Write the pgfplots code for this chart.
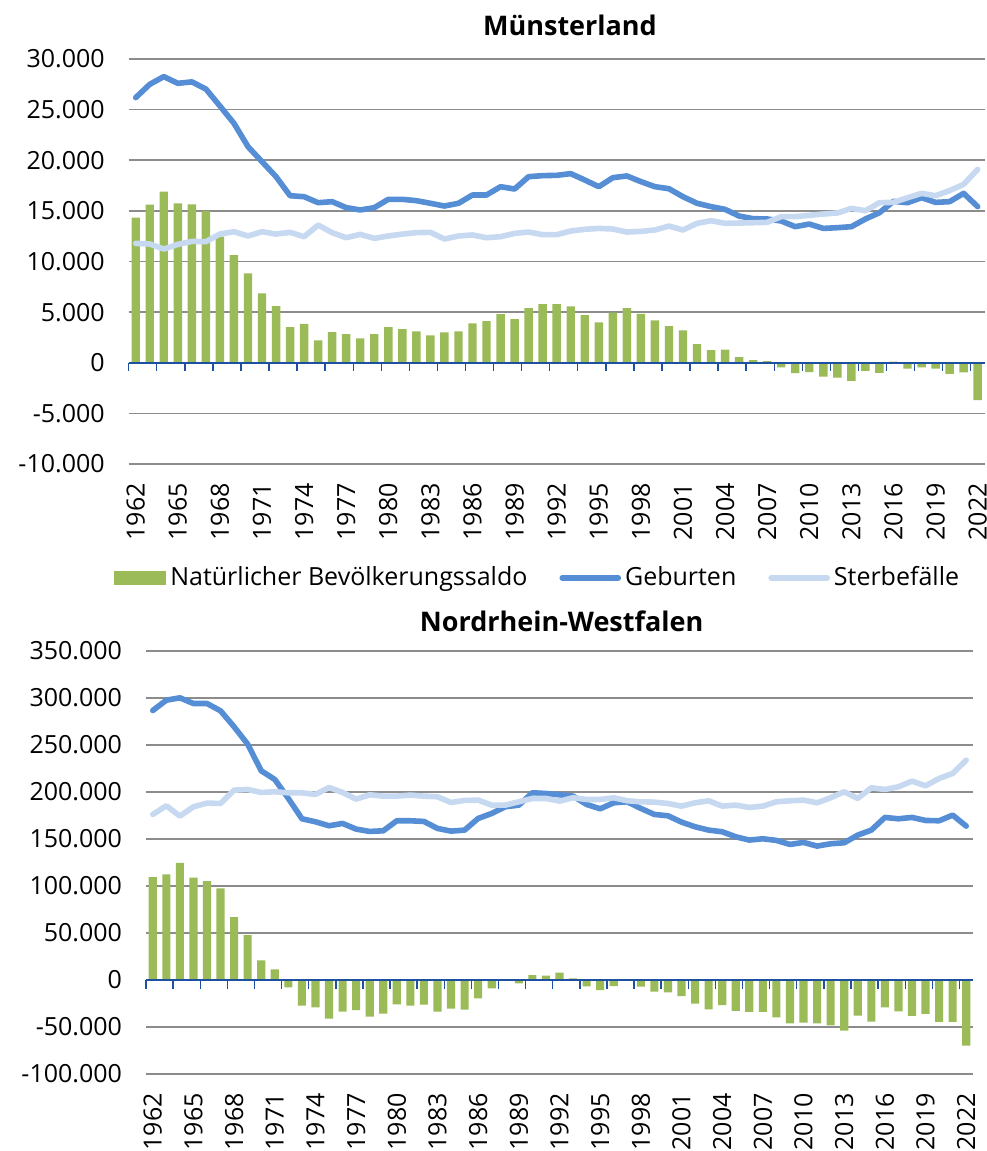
\documentclass[border=0pt]{standalone}
\usepackage{fontspec}
\setmainfont{Open Sans}
\usepackage{pgfplots}
\usepackage{pgfplotstable}
\pgfplotsset{compat=1.18}

\definecolor{saldo}{HTML}{9BBB59}
\definecolor{geb}{HTML}{558ED5}
\definecolor{sterb}{HTML}{C6D9F1}
\definecolor{gridg}{RGB}{140,140,140}
\definecolor{nullblau}{RGB}{30,80,160}

% Jahr, natuerlicher Saldo, Geburten, Sterbefaelle
\pgfplotstableread{
year saldo geb sterb
1962 14330 26190 11790
1963 15610 27500 11730
1964 16900 28260 11230
1965 15750 27600 11690
1966 15650 27740 11990
1967 14990 27040 11960
1968 12450 25360 12710
1969 10640 23650 12945
1970 8830 21345 12520
1971 6850 19860 12945
1972 5600 18380 12710
1973 3525 16500 12880
1974 3850 16400 12450
1975 2200 15810 13600
1976 3030 15910 12850
1977 2830 15320 12350
1978 2400 15090 12680
1979 2830 15320 12290
1980 3525 16140 12520
1981 3330 16140 12710
1982 3100 16010 12850
1983 2700 15750 12880
1984 3000 15480 12220
1985 3100 15750 12520
1986 3890 16570 12620
1987 4120 16570 12350
1988 4810 17390 12450
1989 4315 17160 12780
1990 5400 18380 12910
1991 5800 18480 12650
1992 5800 18510 12650
1993 5570 18680 13010
1994 4710 18050 13180
1995 3990 17390 13270
1996 4940 18280 13210
1997 5400 18450 12910
1998 4840 17890 12980
1999 4180 17390 13110
2000 3620 17190 13500
2001 3200 16400 13110
2002 1845 15750 13770
2003 1250 15420 14030
2004 1285 15150 13770
2005 560 14490 13800
2006 260 14230 13830
2007 165 14200 13870
2008 -460 14000 14430
2009 -1020 13440 14430
2010 -920 13700 14560
2011 -1380 13270 14690
2012 -1480 13340 14790
2013 -1780 13440 15250
2014 -790 14200 15020
2015 -990 14820 15810
2016 100 15940 15840
2017 -590 15810 16300
2018 -460 16300 16730
2019 -590 15840 16500
2020 -1090 15910 17000
2021 -955 16730 17620
2022 -3690 15420 19100
}\muenster

\pgfplotstableread{
year saldo geb sterb
1962 109500 286700 176140
1963 112350 297700 185350
1964 124750 300200 174360
1965 108800 294150 184290
1966 105260 294150 188190
1967 97460 286360 187830
1968 66980 269350 202010
1969 47840 250900 202720
1970 20910 222560 199530
1971 11340 213350 200240
1972 -7800 193150 199170
1973 -27290 171530 199170
1974 -29060 168340 197400
1975 -41110 164090 204840
1976 -33670 166570 199530
1977 -31900 160540 192440
1978 -38980 158060 197050
1979 -35790 158770 195630
1980 -25870 169400 195630
1981 -27290 169400 196690
1982 -26230 168700 195630
1983 -33670 161250 194920
1984 -30480 158420 188900
1985 -31540 159480 191020
1986 -19490 171880 191380
1987 -8860 177200 186060
1988 -1000 184290 186060
1989 -3540 186060 189600
1990 5320 199170 193150
1991 4600 198460 193150
1992 7800 197050 190310
1993 1800 195630 193860
1994 -6730 186770 192080
1995 -10630 182160 192080
1996 -6380 188540 193860
1997 -1000 189600 190670
1998 -7090 182520 189600
1999 -12400 176140 189250
2000 -13110 174720 187830
2001 -17010 167990 185000
2002 -25160 163020 188540
2003 -31190 159480 190670
2004 -26580 157710 185000
2005 -32960 152390 186060
2006 -34020 148850 183580
2007 -34020 150270 185000
2008 -39690 148500 189600
2009 -46070 144240 190670
2010 -45360 146370 191380
2011 -46070 142470 188540
2012 -48200 144950 193860
2013 -53870 146010 200240
2014 -37920 154160 193150
2015 -44300 159480 204490
2016 -29060 172950 202720
2017 -33310 171530 205550
2018 -38280 172950 211580
2019 -36150 169760 206620
2020 -44650 169400 214410
2021 -44650 175430 219730
2022 -69820 163730 233900
}\nrw

\pgfplotsset{
  panel/.style={
    scale only axis,
    xmin=1961.5, xmax=2022.5,
    axis line style={draw=none},
    major tick length=0pt,
    scaled y ticks=false,
    ymajorgrids,
    major grid style={gridg, line width=0.8pt},
    xtick={1962,1965,...,2022},
    xticklabels={1962,1965,1968,1971,1974,1977,1980,1983,1986,1989,1992,1995,1998,2001,2004,2007,2010,2013,2016,2019,2022},
    xticklabel style={rotate=90, anchor=east, inner sep=0pt},
    xticklabel shift=9.5pt,
    yticklabel style={xshift=-8.5pt},
    tick label style={font=\fontsize{12.5}{14}\selectfont},
    clip=false,
  },
  saldobar/.style={ybar, bar width=0.6, fill=saldo, draw=none,
    legend image code/.code={\fill[saldo] (0pt,-3.5pt) rectangle (26pt,3.5pt);}},
  linie/.style={line width=2.8pt, line join=round, line cap=round, mark=none,
    legend image code/.code={\draw[##1] (0pt,0pt) -- (28pt,0pt);}},
}

\newcommand{\nullachse}{%
  \draw[nullblau, line width=1pt] (axis cs:1961.5,0) -- (axis cs:2022.5,0);
  \pgfplotsinvokeforeach{1961.5,1963.5,1965.5,1967.5,1969.5,1971.5,1973.5,1975.5,1977.5,1979.5,1981.5,1983.5,1985.5,1987.5,1989.5,1991.5,1993.5,1995.5,1997.5,1999.5,2001.5,2003.5,2005.5,2007.5,2009.5,2011.5,2013.5,2015.5,2017.5,2019.5,2021.5}{%
    \draw[nullblau, line width=0.7pt] (axis cs:##1,0) -- ++(0pt,-4.3pt);}%
}

\begin{document}
\begin{tikzpicture}
\path[use as bounding box] (0pt,0pt) rectangle (493pt,-575.5pt);

\node[font=\bfseries\fontsize{13.5}{16}\selectfont] at (285pt,-12.5pt) {Münsterland};
\node[font=\bfseries\fontsize{13.5}{16}\selectfont] at (280.8pt,-310.8pt) {Nordrhein-Westfalen};

\begin{axis}[panel,
  at={(64.35pt,-232pt)}, anchor=south west,
  width=428pt, height=202.5pt,
  ymin=-10000, ymax=30000,
  ytick={-10000,-5000,0,5000,10000,15000,20000,25000,30000},
  yticklabels={-10.000,-5.000,0,5.000,10.000,15.000,20.000,25.000,30.000},
  legend columns=3,
  legend style={at={(0.479,-0.281)}, anchor=center, draw=none, fill=none,
    font=\fontsize{12.5}{14}\selectfont,
    /tikz/every even column/.append style={column sep=14pt}},
  legend cell align=left,
]
\addplot[saldobar] table[x=year, y=saldo] {\muenster};
\addlegendentry{Natürlicher Bevölkerungssaldo}
\addplot[linie, geb] table[x=year, y=geb] {\muenster};
\addlegendentry{Geburten}
\addplot[linie, sterb] table[x=year, y=sterb] {\muenster};
\addlegendentry{Sterbefälle}
\nullachse
\end{axis}

\begin{axis}[panel,
  at={(73pt,-537pt)}, anchor=south west,
  width=413.5pt, height=211.5pt,
  ymin=-100000, ymax=350000,
  ytick={-100000,-50000,0,50000,100000,150000,200000,250000,300000,350000},
  yticklabels={-100.000,-50.000,0,50.000,100.000,150.000,200.000,250.000,300.000,350.000},
]
\addplot[saldobar] table[x=year, y=saldo] {\nrw};
\addplot[linie, geb] table[x=year, y=geb] {\nrw};
\addplot[linie, sterb] table[x=year, y=sterb] {\nrw};
\nullachse
\end{axis}
\end{tikzpicture}
\end{document}
